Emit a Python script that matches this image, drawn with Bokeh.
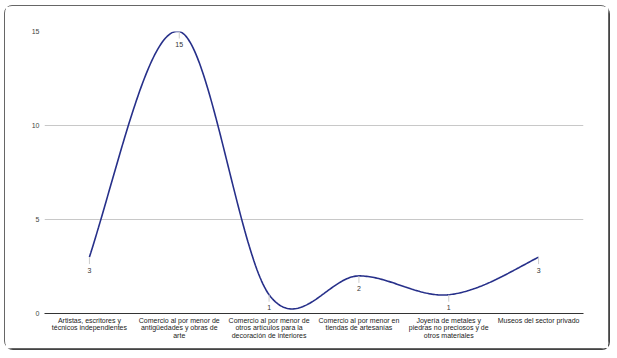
import numpy as np
from bokeh.plotting import figure
from bokeh.models import FixedTicker, Range1d, ColumnDataSource
from bokeh.embed import file_html
from bokeh.resources import INLINE
from bokeh.core.properties import value

categories = [
    "Artistas, escritores y\ntécnicos independientes",
    "Comercio al por menor de\nantigüedades y obras de\narte",
    "Comercio al por menor de\notros artículos para la\ndecoración de interiores",
    "Comercio al por menor en\ntiendas de artesanías",
    "Joyería de metales y\npiedras no preciosos y de\notros materiales",
    "Museos del sector privado",
]
values = [3, 15, 1, 2, 1, 3]
y_ticks = [0, 5, 10, 15]

FONT = "Liberation Sans"
LINE_COLOR = "#27308a"

W, H = 605, 344
ML, MR, MT, MB = 39, 27, 25, 37
frame_h = H - MT - MB

p = figure(width=W, height=H, output_backend="svg", toolbar_location=None,
           x_range=Range1d(-0.5, len(values) - 0.5), y_range=Range1d(0, 15),
           min_border_left=ML, min_border_right=MR, min_border_top=MT, min_border_bottom=MB)
p.styles = {"margin-left": "4px", "margin-top": "5px", "border": "1px solid #666",
            "border-radius": "8px", "box-shadow": "1px 1px 0px #444"}
p.outline_line_color = None
p.background_fill_color = "white"
p.border_fill_color = "white"

# smooth curve (cubic Hermite / Catmull-Rom through data points)
n = len(values)
v = np.array(values, dtype=float)
m = np.zeros(n)
for i in range(1, n - 1):
    m[i] = (v[i + 1] - v[i - 1]) / 2.0
m[0] = 1.25 * (v[1] - v[0])
m[-1] = 1.25 * (v[-1] - v[-2])
xs, ys = [], []
for i in range(n - 1):
    t = np.linspace(0, 1, 60)
    h00 = 2 * t**3 - 3 * t**2 + 1
    h10 = t**3 - 2 * t**2 + t
    h01 = -2 * t**3 + 3 * t**2
    h11 = t**3 - t**2
    xs.extend(list(i + t))
    ys.extend(list(h00 * v[i] + h10 * m[i] + h01 * v[i + 1] + h11 * m[i + 1]))

# gridlines
p.xgrid.grid_line_color = None
p.ygrid.grid_line_color = "#c8c8c8"
p.ygrid.grid_line_width = 1
p.ygrid.ticker = FixedTicker(ticks=y_ticks)

p.line(xs, ys, line_color=LINE_COLOR, line_width=1.6)

# annotation stems and labels
du = 15.0 / frame_h
src = ColumnDataSource(dict(x=list(range(n)), y=values, y1=[val - 7 * du for val in values],
                            t=[str(val) for val in values]))
p.segment(x0="x", y0="y", x1="x", y1="y1", source=src, line_color="#cccccc", line_width=1)
p.text(x="x", y="y", text="t", source=src, y_offset=13, text_align="center",
       text_baseline="middle", text_font=value(FONT), text_font_size="7px", text_color="#333333")

# axes
p.yaxis.ticker = FixedTicker(ticks=y_ticks)
p.yaxis.axis_line_color = None
p.yaxis.major_tick_line_color = None
p.yaxis.minor_tick_line_color = None
p.yaxis.major_tick_out = 0
p.yaxis.major_tick_in = 0
p.yaxis.major_label_text_font = FONT
p.yaxis.major_label_text_font_size = "7px"
p.yaxis.major_label_text_color = "#444444"
p.yaxis.major_label_standoff = 5

p.xaxis.ticker = FixedTicker(ticks=list(range(n)))
p.xaxis.major_label_overrides = {i: c for i, c in enumerate(categories)}
p.xaxis.axis_line_color = "#333333"
p.xaxis.axis_line_width = 1
p.xaxis.major_tick_line_color = None
p.xaxis.minor_tick_line_color = None
p.xaxis.major_tick_out = 0
p.xaxis.major_tick_in = 0
p.xaxis.major_label_text_font = FONT
p.xaxis.major_label_text_font_size = "7px"
p.xaxis.major_label_text_color = "#222222"
p.xaxis.major_label_standoff = 3
p.xaxis.major_label_text_line_height = 1.1

open("out.html", "w").write(file_html(p, INLINE))
